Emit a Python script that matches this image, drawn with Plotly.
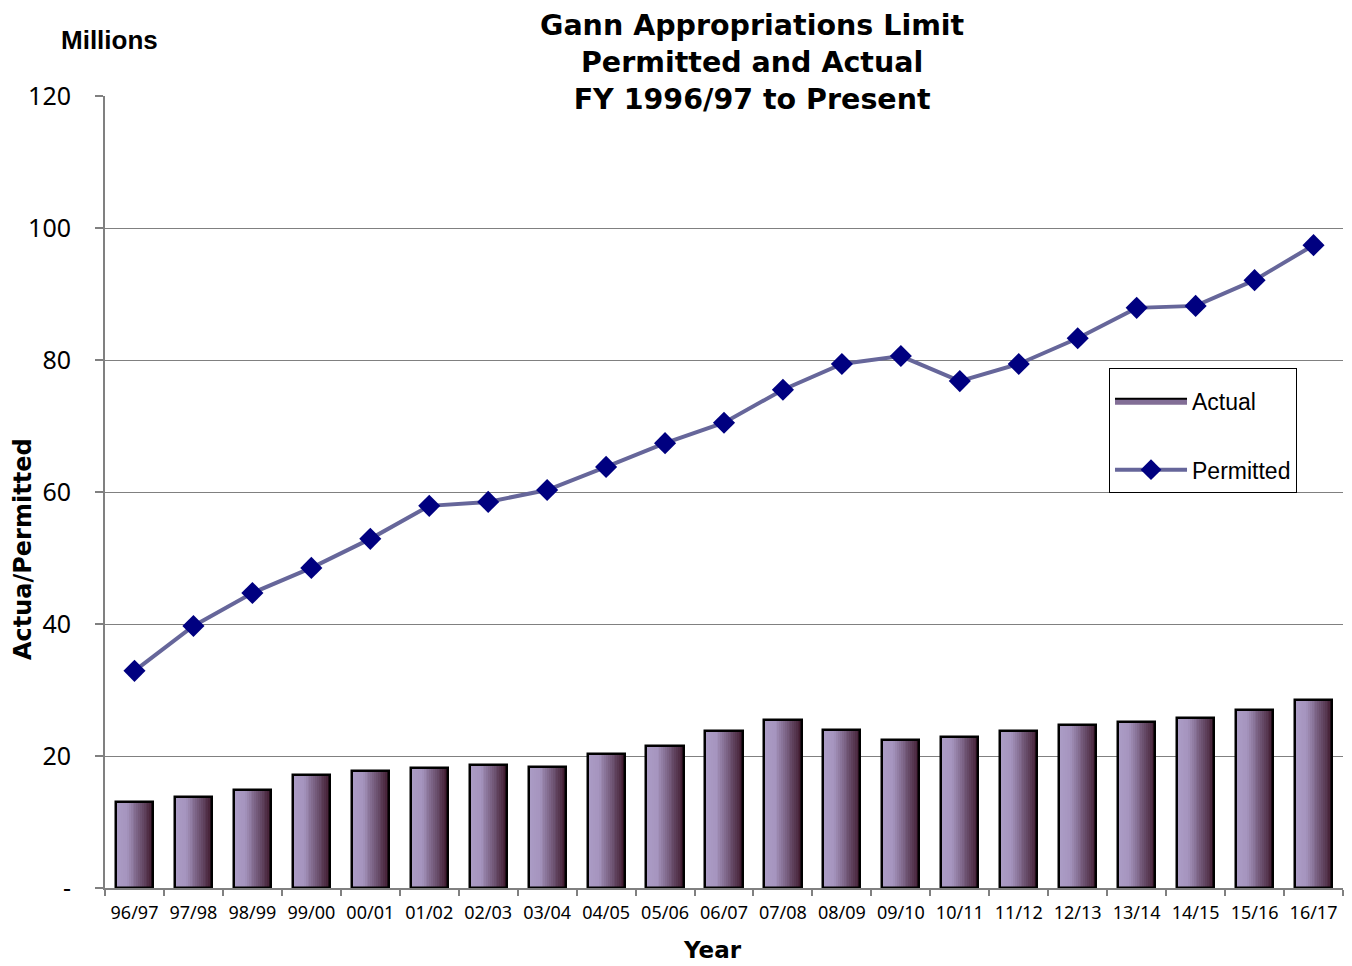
import plotly.graph_objects as go

years = ["96/97", "97/98", "98/99", "99/00", "00/01", "01/02", "02/03", "03/04",
         "04/05", "05/06", "06/07", "07/08", "08/09", "09/10", "10/11", "11/12",
         "12/13", "13/14", "14/15", "15/16", "16/17"]
actual = [13.0, 13.8, 14.8, 17.1, 17.7, 18.2, 18.6, 18.3, 20.3, 21.5, 23.8,
          25.5, 23.9, 22.4, 22.9, 23.8, 24.7, 25.2, 25.8, 27.0, 28.5]
permitted = [32.9, 39.7, 44.7, 48.5, 52.9, 57.9, 58.5, 60.3, 63.8, 67.4, 70.5,
             75.5, 79.4, 80.6, 76.8, 79.4, 83.3, 87.9, 88.2, 92.1, 97.4]
y_ticks = [0, 20, 40, 60, 80, 100, 120]
y_ticktext = ["-", "20", "40", "60", "80", "100", "120"]
grid_vals = [20, 40, 60, 80, 100]

BAR_W = 0.63
N = 20
stops = [(0.0, (172, 157, 198)), (0.3, (165, 148, 190)), (0.65, (112, 86, 117)), (1.0, (62, 25, 45))]


def grad(t):
    for (t0, c0), (t1, c1) in zip(stops[:-1], stops[1:]):
        if t0 <= t <= t1:
            f = (t - t0) / (t1 - t0)
            return "rgb(%d,%d,%d)" % tuple(round(a + (b - a) * f) for a, b in zip(c0, c1))
    return "rgb(%d,%d,%d)" % stops[-1][1]


fig = go.Figure()

# gradient slices
sw = BAR_W / N
for i in range(N):
    w = sw * 1.4 if i < N - 1 else sw
    fig.add_trace(go.Bar(x=years, y=actual, width=w, offset=-BAR_W / 2 + i * sw,
                         marker=dict(color=grad((i + 0.5) / N), line=dict(width=0)),
                         showlegend=False, legendgroup="a", hoverinfo="skip"))
# outline
fig.add_trace(go.Bar(x=years, y=actual, name="Actual", width=BAR_W, showlegend=False, legendgroup="a",
                     marker=dict(color="rgba(0,0,0,0)", line=dict(color="black", width=2.5))))
# legend entry for Actual (filled swatch)
fig.add_trace(go.Scatter(x=[None], y=[None], name="Actual", mode="lines", fill="toself",
                         fillcolor="rgb(130,110,150)", line=dict(color="black", width=2),
                         legendgroup="a", hoverinfo="skip"))

fig.add_trace(go.Scatter(x=years, y=permitted, name="Permitted", mode="lines+markers", legendgroup="p",
                         line=dict(color="rgb(102,102,154)", width=4),
                         marker=dict(symbol="diamond", size=17, color="#000080")))

fig.update_layout(
    width=1344, height=958,
    margin=dict(l=97, r=9, t=88, b=78),
    paper_bgcolor="white", plot_bgcolor="white",
    barmode="overlay", bargap=0,
    showlegend=True,
    legend=dict(x=0.811, y=0.6566, xanchor="left", yanchor="top",
                bgcolor="white", bordercolor="black", borderwidth=1,
                font=dict(family="Liberation Sans", size=23, color="black"),
                title=dict(text="&nbsp;", font=dict(size=8)),
                traceorder="grouped", tracegroupgap=36, itemwidth=72),
    xaxis=dict(type="category", tickson="boundaries", ticks="outside", ticklen=6,
               tickcolor="#808080", tickwidth=1.5, showline=True, linecolor="#808080", linewidth=2,
               showgrid=False, range=[-0.5, 20.5], ticklabelstandoff=7,
               tickfont=dict(family="Noto Sans", size=18, color="black")),
    yaxis=dict(range=[0, 120], tickmode="array", tickvals=y_ticks, ticktext=y_ticktext,
               ticks="outside", ticklen=8, tickcolor="#808080", tickwidth=1.5,
               showline=True, linecolor="#808080", linewidth=2, showgrid=False, zeroline=False,
               ticklabelstandoff=19,
               tickfont=dict(family="Noto Sans", size=25, color="black"),
               minor=dict(tickmode="array", tickvals=grid_vals, showgrid=True,
                          gridcolor="#808080", gridwidth=1, ticks="")),
)

fig.add_annotation(text="<b>Gann Appropriations Limit<br>Permitted and Actual<br>FY 1996/97 to Present</b>",
                   xref="paper", yref="paper", x=0.5226, y=1.0429, showarrow=False,
                   xanchor="center", yanchor="middle",
                   font=dict(family="DejaVu Sans", size=28.5, color="black"))
fig.add_annotation(text="<b>Millions</b>", xref="paper", yref="paper", x=0.004, y=1.0707,
                   showarrow=False, xanchor="center", yanchor="middle",
                   font=dict(family="Liberation Sans", size=26, color="black"))
fig.add_annotation(text="<b>Actua/Permitted</b>", xref="paper", yref="paper", x=-0.0662, y=0.428,
                   textangle=-90, showarrow=False, xanchor="center", yanchor="middle",
                   font=dict(family="DejaVu Sans", size=24, color="black"))
fig.add_annotation(text="<b>Year</b>", xref="paper", yref="paper", x=0.491, y=-0.0783,
                   showarrow=False, xanchor="center", yanchor="middle",
                   font=dict(family="DejaVu Sans", size=23, color="black"))

fig.write_html("out.html")
